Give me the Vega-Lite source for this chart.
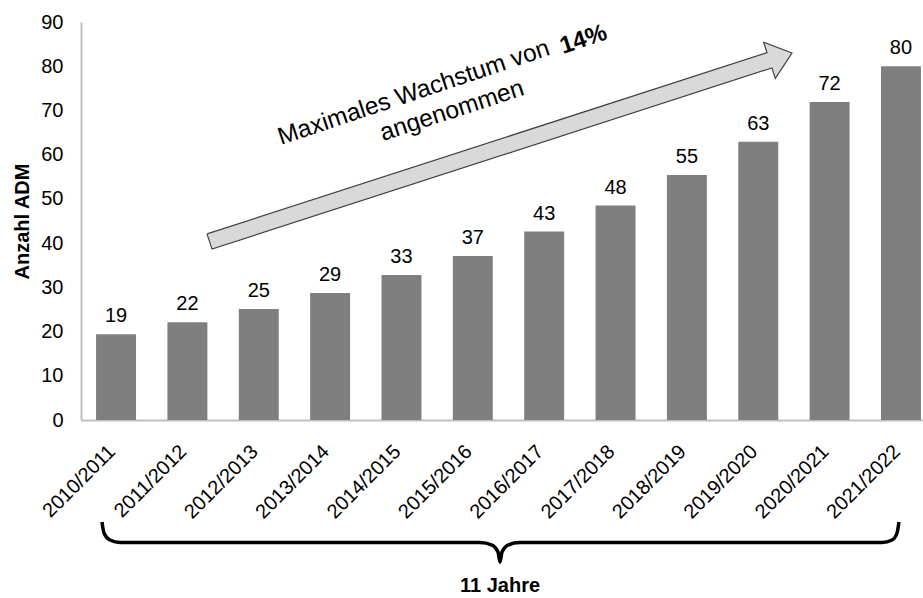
{
  "$schema": "https://vega.github.io/schema/vega-lite/v6.json",
  "width": 842,
  "height": 398,
  "autosize": {"type": "none"},
  "padding": {"left": 81, "top": 22, "right": 0, "bottom": 178},
  "background": "white",
  "config": {"view": {"stroke": null}, "font": "Liberation Sans"},
  "datasets": {
    "bars": [
      {"jahr": "2010/2011", "adm": 19.4, "label": "19"},
      {"jahr": "2011/2012", "adm": 22.1, "label": "22"},
      {"jahr": "2012/2013", "adm": 25.1, "label": "25"},
      {"jahr": "2013/2014", "adm": 28.7, "label": "29"},
      {"jahr": "2014/2015", "adm": 32.8, "label": "33"},
      {"jahr": "2015/2016", "adm": 37.1, "label": "37"},
      {"jahr": "2016/2017", "adm": 42.6, "label": "43"},
      {"jahr": "2017/2018", "adm": 48.5, "label": "48"},
      {"jahr": "2018/2019", "adm": 55.4, "label": "55"},
      {"jahr": "2019/2020", "adm": 62.9, "label": "63"},
      {"jahr": "2020/2021", "adm": 71.9, "label": "72"},
      {"jahr": "2021/2022", "adm": 80.0, "label": "80"}
    ],
    "arrow": [
      {"i": 1, "x": 1.766, "y": 42.08},
      {"i": 2, "x": 9.613, "y": 83.06},
      {"i": 3, "x": 9.567, "y": 85.43},
      {"i": 4, "x": 9.964, "y": 82.99},
      {"i": 5, "x": 9.731, "y": 77.25},
      {"i": 6, "x": 9.683, "y": 79.62},
      {"i": 7, "x": 1.836, "y": 38.65},
      {"i": 8, "x": 1.766, "y": 42.08}
    ],
    "brace": [
      {"x": 0.294, "y": -23.07},
      {"x": 0.322, "y": -25.55},
      {"x": 0.406, "y": -27.14},
      {"x": 0.547, "y": -27.70},
      {"x": 5.591, "y": -27.70},
      {"x": 5.760, "y": -28.27},
      {"x": 5.844, "y": -29.85},
      {"x": 5.872, "y": -32.11},
      {"x": 5.900, "y": -29.85},
      {"x": 5.984, "y": -28.27},
      {"x": 6.152, "y": -27.70},
      {"x": 11.226, "y": -27.70},
      {"x": 11.366, "y": -27.14},
      {"x": 11.436, "y": -25.55},
      {"x": 11.463, "y": -23.07}
    ],
    "notes": [
      {"id": "line1", "x": 2.803, "y": 62.19, "text": "Maximales Wachstum von"},
      {"id": "line2", "x": 4.232, "y": 63.10, "text": "angenommen"},
      {"id": "pct", "x": 6.754, "y": 82.76, "text": "14%"},
      {"id": "jahre", "x": 5.872, "y": -37.54, "text": "11 Jahre"}
    ]
  },
  "layer": [
    {
      "data": {"name": "bars"},
      "encoding": {
        "x": {
          "field": "jahr", "type": "ordinal", "sort": null,
          "scale": {"paddingInner": 0.44, "paddingOuter": 0.12, "align": 0.88},
          "axis": {
            "title": null, "labelAngle": -45, "ticks": false,
            "domainColor": "#bfbfbf", "domainWidth": 2,
            "labelFontSize": 20, "labelColor": "#000", "labelPadding": 21, "labelOffset": -11,
            "labelFont": "Liberation Sans"
          }
        },
        "y": {
          "field": "adm", "type": "quantitative",
          "scale": {"domain": [0, 90], "nice": false},
          "axis": {
            "values": [0, 10, 20, 30, 40, 50, 60, 70, 80, 90],
            "grid": false, "ticks": false,
            "domainColor": "#bfbfbf", "domainWidth": 2,
            "labelFontSize": 20, "labelColor": "#000", "labelPadding": 18,
            "title": "Anzahl ADM", "titleFontSize": 20, "titleFontWeight": "bold",
            "titleColor": "#000", "titlePadding": 8, "titleFont": "Liberation Sans"
          }
        }
      },
      "layer": [
        {"mark": {"type": "bar", "color": "#7f7f7f"}},
        {
          "mark": {"type": "text", "baseline": "alphabetic", "dy": -12, "fontSize": 20, "color": "#000", "font": "Liberation Sans"},
          "encoding": {"text": {"field": "label"}}
        }
      ]
    },
    {
      "data": {"name": "arrow"},
      "mark": {"type": "line", "fill": "#d9d9d9", "stroke": "#404040", "strokeWidth": 1.2, "interpolate": "linear"},
      "encoding": {
        "x": {"field": "x", "type": "quantitative", "scale": {"domain": [0, 11.8], "nice": false, "zero": false}, "axis": null},
        "y": {"field": "y", "type": "quantitative", "scale": {"domain": [0, 90], "nice": false}, "axis": null},
        "order": {"field": "i"}
      }
    },
    {
      "data": {"name": "brace"},
      "mark": {"type": "line", "stroke": "#000", "strokeWidth": 3.5, "interpolate": "monotone"},
      "encoding": {
        "x": {"field": "x", "type": "quantitative", "scale": {"domain": [0, 11.8], "nice": false, "zero": false}, "axis": null},
        "y": {"field": "y", "type": "quantitative", "scale": {"domain": [0, 90], "nice": false}, "axis": null}
      }
    },
    {
      "data": {"name": "notes"},
      "transform": [{"filter": "datum.id === 'line1'"}],
      "mark": {"type": "text", "align": "left", "baseline": "alphabetic", "angle": -18.5, "fontSize": 24.5, "color": "#000", "font": "Liberation Sans"},
      "encoding": {
        "x": {"field": "x", "type": "quantitative", "scale": {"domain": [0, 11.8], "nice": false, "zero": false}, "axis": null},
        "y": {"field": "y", "type": "quantitative", "scale": {"domain": [0, 90], "nice": false}, "axis": null},
        "text": {"field": "text"}
      }
    },
    {
      "data": {"name": "notes"},
      "transform": [{"filter": "datum.id === 'line2'"}],
      "mark": {"type": "text", "align": "left", "baseline": "alphabetic", "angle": -18, "fontSize": 24.5, "color": "#000", "font": "Liberation Sans"},
      "encoding": {
        "x": {"field": "x", "type": "quantitative", "scale": {"domain": [0, 11.8], "nice": false, "zero": false}, "axis": null},
        "y": {"field": "y", "type": "quantitative", "scale": {"domain": [0, 90], "nice": false}, "axis": null},
        "text": {"field": "text"}
      }
    },
    {
      "data": {"name": "notes"},
      "transform": [{"filter": "datum.id === 'pct'"}],
      "mark": {"type": "text", "align": "left", "baseline": "alphabetic", "angle": -18.5, "fontSize": 24, "fontWeight": "bold", "color": "#000", "font": "Liberation Sans"},
      "encoding": {
        "x": {"field": "x", "type": "quantitative", "scale": {"domain": [0, 11.8], "nice": false, "zero": false}, "axis": null},
        "y": {"field": "y", "type": "quantitative", "scale": {"domain": [0, 90], "nice": false}, "axis": null},
        "text": {"field": "text"}
      }
    },
    {
      "data": {"name": "notes"},
      "transform": [{"filter": "datum.id === 'jahre'"}],
      "mark": {"type": "text", "align": "center", "baseline": "middle", "fontSize": 20, "fontWeight": "bold", "color": "#000", "font": "Liberation Sans"},
      "encoding": {
        "x": {"field": "x", "type": "quantitative", "scale": {"domain": [0, 11.8], "nice": false, "zero": false}, "axis": null},
        "y": {"field": "y", "type": "quantitative", "scale": {"domain": [0, 90], "nice": false}, "axis": null},
        "text": {"field": "text"}
      }
    }
  ],
  "resolve": {"scale": {"x": "independent"}, "axis": {"x": "independent", "y": "independent"}}
}
